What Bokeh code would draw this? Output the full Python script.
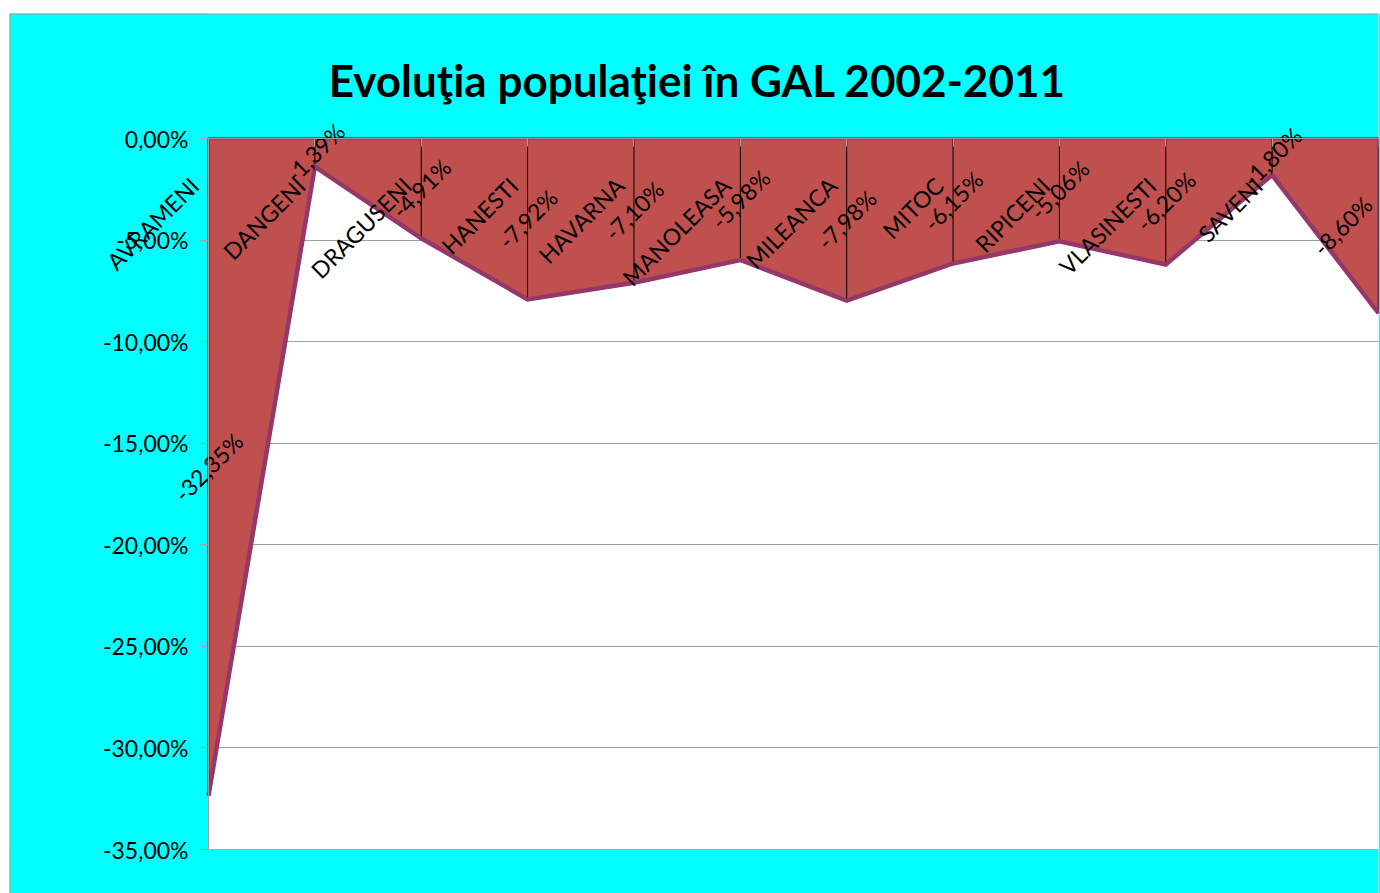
import math
from bokeh.plotting import figure
from bokeh.layouts import column, row
from bokeh.models import (ColumnDataSource, Range1d, FixedTicker, CustomJSTickFormatter, Spacer)
from bokeh.core.properties import value
from bokeh.embed import file_html
from bokeh.resources import INLINE

# ---- data ----
categories = ["AVRAMENI", "DANGENI", "DRAGUSENI", "HANESTI", "HAVARNA", "MANOLEASA",
              "MILEANCA", "MITOC", "RIPICENI", "VLASINESTI", "SAVENI", ""]
values = [-32.35, -1.39, -4.91, -7.92, -7.10, -5.98, -7.98, -6.15, -5.06, -6.20, -1.80, -8.60]
y_ticks = [-35, -30, -25, -20, -15, -10, -5, 0]
title_text = "Evoluţia populaţiei în GAL 2002-2011"

FONT = "Lato"
FILL = "#C0504D"
EDGE = "#953769"
GRAY = "#A0A0A0"
CYAN = "#00FFFF"

n = len(values)
xs = list(range(n))

# geometry (pixels): the frame spans the whole chart so texts are not clipped
FIG_W, FIG_H = 1371, 880
PLOT_L, PLOT_R = 199, 1369      # pixel x of first / last category inside the figure
PLOT_T, PLOT_B = 125, 836       # pixel y of 0% / -35% inside the figure
ppx = (PLOT_R - PLOT_L) / (n - 1)
ppy = (PLOT_B - PLOT_T) / 35.0
x_start = -PLOT_L / ppx
x_end = n - 1
y_top = PLOT_T / ppy
y_bot = -35 - (FIG_H - PLOT_B) / ppy

p = figure(width=FIG_W, height=FIG_H, output_backend="svg", toolbar_location=None,
           x_range=Range1d(x_start, x_end), y_range=Range1d(y_bot, y_top),
           min_border_left=0, min_border_right=FIG_W - PLOT_R, min_border_top=0,
           min_border_bottom=0)
p.background_fill_color = "white"
p.border_fill_color = CYAN
p.outline_line_color = None

# y axis at the left edge of the plot area
yax = p.yaxis[0]
yax.fixed_location = 0
yax.bounds = (-35, 0)
yax.ticker = FixedTicker(ticks=y_ticks)
yax.formatter = CustomJSTickFormatter(code="return tick.toFixed(2).replace('.', ',') + '%';")
yax.major_label_text_font = FONT
yax.major_label_text_font_size = "23px"
yax.major_label_text_color = "black"
yax.axis_line_color = GRAY
yax.major_tick_line_color = GRAY
yax.major_tick_out = 8
yax.major_tick_in = 0
yax.minor_tick_line_color = None
yax.major_label_standoff = 12

# category axis at 0 (ticks only)
xax = p.xaxis[0]
xax.fixed_location = 0
xax.bounds = (0, n - 1)
xax.ticker = FixedTicker(ticks=xs)
xax.major_label_text_font_size = "0px"
xax.major_label_text_color = None
xax.axis_line_color = GRAY
xax.major_tick_line_color = GRAY
xax.major_tick_in = 0
xax.major_tick_out = 8
xax.minor_tick_line_color = None

p.xgrid.grid_line_color = None
p.ygrid.ticker = FixedTicker(ticks=y_ticks[:-1])
p.ygrid.grid_line_color = GRAY
p.ygrid.grid_line_width = 1

# cyan chart background outside the plot area (overlapping quads, no seams)
p.quad(left=[x_start, x_start, x_start], right=[0, x_end, x_end],
       bottom=[y_bot, 0, y_bot], top=[y_top, y_top, -35],
       fill_color=CYAN, line_color=None)
# chart border (top / left)
p.segment(x0=[x_start, x_start], y0=[y_bot, y_top], x1=[x_start, x_end], y1=[y_top, y_top],
          line_color=GRAY, line_width=2)

# area
px = [0] + xs + [n - 1]
py = [0] + values + [0]
p.patch(px, py, fill_color=FILL, line_color=EDGE, line_width=3)

# drop lines
p.segment(x0=xs[1:], y0=[0] * (n - 1), x1=xs[1:], y1=values[1:], line_color="black", line_width=1)

# data line
p.line(xs, values, line_color=EDGE, line_width=4.5, line_join="miter")

# category labels
cat_src = ColumnDataSource(dict(x=[x - 14 / ppx for x in xs], y=[-43 / ppy] * n, text=categories))
p.text(x="x", y="y", text="text", source=cat_src, angle=math.pi / 4,
       text_align="right", text_baseline="middle",
       text_font=value(FONT), text_font_size="23px", text_color="black")

# data labels (the last one is kept inside the chart, as in the original)
lab_x = [x if x < n - 1 else x - 36 / ppx for x in xs]
lab_src = ColumnDataSource(dict(x=lab_x, y=[v / 2 for v in values],
                                text=[f"{v:.2f}".replace(".", ",") + "%" for v in values]))
p.text(x="x", y="y", text="text", source=lab_src, angle=math.pi / 4,
       text_align="center", text_baseline="middle",
       text_font=value(FONT), text_font_size="23px", text_color="black")

# title
p.text(x=[(697 - 9 - PLOT_L) / ppx], y=[(138 - 79) / ppy], text=[title_text],
       text_align="center", text_baseline="middle",
       text_font=value(FONT), text_font_style="bold", text_font_size="44px",
       text_color="black")

layout = column(Spacer(height=13), row(Spacer(width=9), p))
open("out.html", "w").write(file_html(layout, INLINE))
